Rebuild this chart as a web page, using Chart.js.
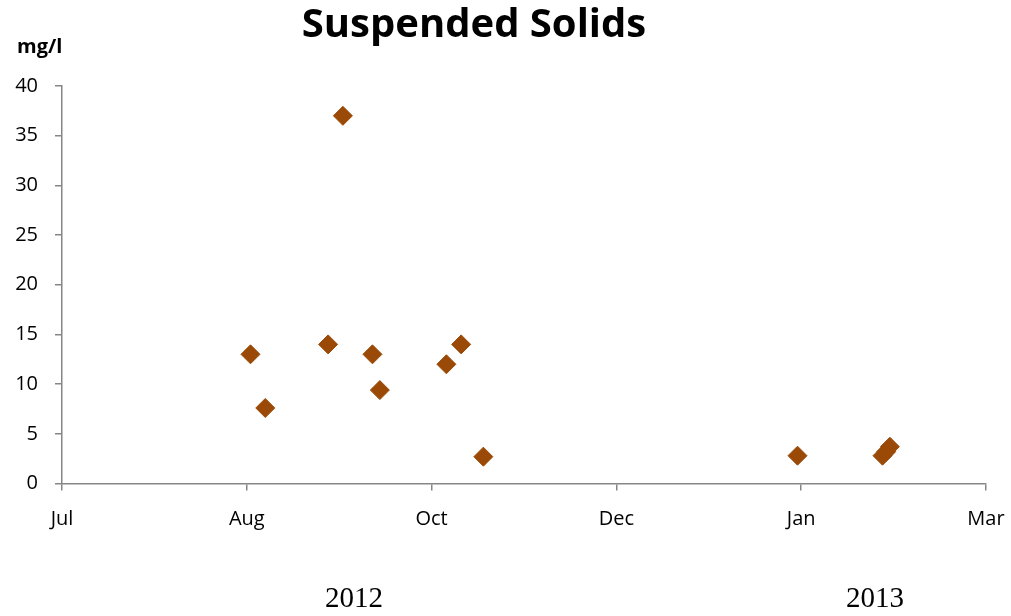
<!DOCTYPE html>
<html>
<head>
<meta charset="utf-8">
<style>
  html, body { margin: 0; padding: 0; background: #fff; }
  #wrap { width: 1011px; height: 616px; }
</style>
</head>
<body>
<div id="wrap"><canvas id="myChart" width="1011" height="616"></canvas></div>

<script src="https://cdn.jsdelivr.net/npm/chart.js"></script>
<script>
  // sample dates and suspended solids (mg/l)
  const sampleDates = [
    '2012-08-30', '2012-09-03', '2012-09-20', '2012-09-24', '2012-10-02', '2012-10-04',
    '2012-10-22', '2012-10-26', '2012-11-01', '2013-01-25', '2013-02-17', '2013-02-18', '2013-02-19'
  ];
  const solids = [13, 7.6, 14, 37, 13, 9.4, 12, 14, 2.7, 2.8, 2.8, 3.2, 3.7];

  // axis range (Excel-style date axis, 50 day steps)
  const xStart = '2012-07-10';
  const xEnd = '2013-03-17';
  const xStepDays = 50;
  const yMax = 40;
  const yStep = 5;

  const yearLabels = ['2012', '2013'];
  const yearDates = ['2012-09-27', '2013-02-15'];

  const monthNames = ['Jan', 'Feb', 'Mar', 'Apr', 'May', 'Jun', 'Jul', 'Aug', 'Sep', 'Oct', 'Nov', 'Dec'];
  const DAY = 86400000;
  function toDay(s) {
    const p = s.split('-').map(Number);
    return Date.UTC(p[0], p[1] - 1, p[2]) / DAY;
  }

  const points = sampleDates.map((d, i) => ({ x: toDay(d), y: solids[i] }));
  const font = '"Open Sans", sans-serif';
  const axisColor = '#868686';

  // titles and year captions drawn as text
  const textPlugin = {
    id: 'texts',
    afterDraw(chart) {
      const c = chart.ctx;
      const xs = chart.scales.x;
      c.save();
      c.fillStyle = '#000';
      c.textBaseline = 'middle';
      c.textAlign = 'center';
      c.font = 'bold 40px ' + font;
      c.fillText('Suspended Solids', 474, 26);
      c.textAlign = 'left';
      c.font = 'bold 20px ' + font;
      c.fillText('mg/l', 17, 47);
      c.textAlign = 'center';
      c.font = '29px "Liberation Serif", "Times New Roman", serif';
      yearLabels.forEach((t, i) => {
        c.fillText(t, xs.getPixelForValue(toDay(yearDates[i])), 599);
      });
      c.restore();
    }
  };

  const ctx = document.getElementById('myChart');
  new Chart(ctx, {
    type: 'scatter',
    data: {
      datasets: [{
        label: 'Suspended Solids',
        data: points,
        pointStyle: 'rectRot',
        pointRadius: 9.5,
        pointHoverRadius: 9.5,
        backgroundColor: '#9A4A06',
        borderColor: '#9A4A06',
        borderWidth: 1
      }]
    },
    options: {
      responsive: false,
      animation: false,
      layout: { padding: { top: 86, right: 25, left: 0, bottom: 0 } },
      plugins: {
        legend: { display: false },
        title: { display: false },
        tooltip: { enabled: false }
      },
      scales: {
        x: {
          type: 'linear',
          min: toDay(xStart),
          max: toDay(xEnd),
          afterFit(scale) {
            scale.height = 132.5;
            scale.paddingLeft = 0;
            scale.paddingRight = 0;
          },
          border: { color: axisColor, width: 1.5 },
          grid: { display: true, drawOnChartArea: false, drawTicks: true, tickLength: 7, color: axisColor, lineWidth: 1.5 },
          ticks: {
            stepSize: xStepDays,
            color: '#000',
            padding: 17,
            maxRotation: 0,
            font: { family: font, size: 20 },
            callback: v => monthNames[new Date(v * DAY).getUTCMonth()]
          }
        },
        y: {
          min: 0,
          max: yMax,
          afterFit(scale) { scale.width = 62; },
          border: { color: axisColor, width: 1.5 },
          grid: { display: true, drawOnChartArea: false, drawTicks: true, tickLength: 7, color: axisColor, lineWidth: 1.5 },
          ticks: {
            stepSize: yStep,
            color: '#000',
            padding: 17,
            font: { family: font, size: 20 }
          }
        }
      }
    },
    plugins: [textPlugin]
  });
</script>
</body>
</html>
